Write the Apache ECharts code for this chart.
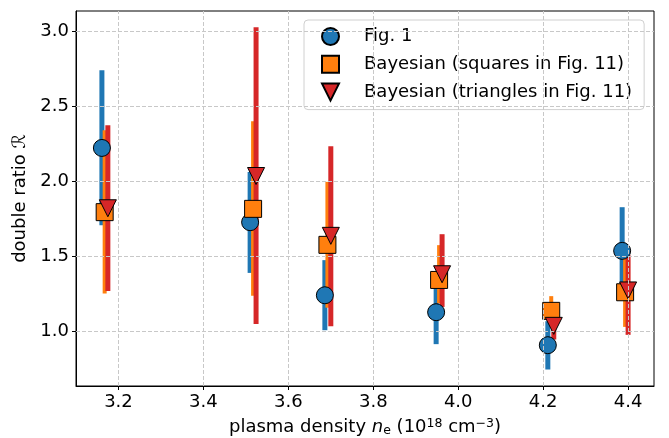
<!DOCTYPE html>
<html>
<head>
<meta charset="UTF-8">
<title></title>
<script src="https://cdn.jsdelivr.net/npm/echarts@6/dist/echarts.min.js"></script>
<style>
	html, body {margin:0; padding:0; background:#fff;}
	#box {width:669px; height:438px;}
</style>
</head>
<body>
<div id="box"></div>
<script type="text/javascript">
// Fig. 1 (blue circles)
var figX  = [3.161, 3.510, 3.686, 3.948, 4.211, 4.386];
var figY  = [2.225, 1.730, 1.243, 1.130, 0.910, 1.539];
var figLo = [1.710, 1.392, 1.010, 0.917, 0.748, 1.250];
var figHi = [2.743, 2.065, 1.477, 1.340, 1.070, 1.830];

// Bayesian, squares in Fig. 11 (orange)
var sqX  = [3.1675, 3.517, 3.692, 3.955, 4.219, 4.393];
var sqY  = [1.797, 1.819, 1.579, 1.345, 1.139, 1.263];
var sqLo = [1.255, 1.239, 1.160, 1.190, 1.060, 1.032];
var sqHi = [2.343, 2.403, 1.999, 1.577, 1.237, 1.500];

// Bayesian, triangles in Fig. 11 (red)
var trX  = [3.175, 3.524, 3.700, 3.962, 4.225, 4.400];
var trY  = [1.823, 2.038, 1.639, 1.383, 1.039, 1.275];
var trLo = [1.272, 1.052, 1.037, 1.165, 0.948, 0.979];
var trHi = [2.377, 3.030, 2.237, 1.650, 1.150, 1.510];

var xTicks = [3.2, 3.4, 3.6, 3.8, 4.0, 4.2, 4.4];
var yTicks = [1.0, 1.5, 2.0, 2.5, 3.0];

var names = ['Fig. 1', 'Bayesian (squares in Fig. 11)', 'Bayesian (triangles in Fig. 11)'];
var FONT = 'DejaVu Sans';
var FS = 18;
var triDown = 'path://M0,0L20,0L10,20Z';

function pairs(xs, ys) {
	return xs.map(function (x, i) { return [x, ys[i]]; });
}

// vertical error bar as a filled rect, lo..hi
function errBars(xs, lo, hi, color, w) {
	return {
		type: 'custom',
		silent: true,
		z: 2,
		data: xs.map(function (x, i) { return [x, lo[i], hi[i]]; }),
		encode: {x: 0, y: [1, 2]},
		renderItem: function (params, api) {
			var a = api.coord([api.value(0), api.value(1)]);
			var b = api.coord([api.value(0), api.value(2)]);
			return {
				type: 'rect',
				shape: {x: a[0] - w / 2, y: b[1], width: w, height: a[1] - b[1]},
				style: {fill: color, stroke: null, lineWidth: 0}
			};
		}
	};
}

function marks(name, xs, ys, color, symbol) {
	return {
		name: name,
		type: 'scatter',
		z: 2,
		symbol: symbol,
		symbolSize: 17,
		data: pairs(xs, ys),
		itemStyle: {color: color, opacity: 1, borderColor: '#000', borderWidth: 1}
	};
}

var gridLine = {type: [4, 2], color: '#c8c8c8', width: 1};
var gridMarks = xTicks.map(function (v) { return {xAxis: v}; })
	.concat(yTicks.map(function (v) { return {yAxis: v}; }));

var myChart = echarts.init(document.getElementById('box'));

var option = {
	animation: false,
	backgroundColor: '#fff',
	textStyle: {fontFamily: FONT},
	grid: {left: 76, right: 15, top: 11, bottom: 52, show: true, borderColor: '#000', borderWidth: 1,
		outerBoundsMode: 'none', containLabel: false},
	legend: {
		data: names,
		orient: 'vertical',
		left: 304,
		top: 20,
		padding: [7, 12, 8, 17],
		itemGap: 8.8,
		itemWidth: 17,
		itemHeight: 17,
		backgroundColor: 'rgba(255,255,255,0.85)',
		borderColor: '#d0d0d0',
		borderWidth: 1,
		borderRadius: 4,
		textStyle: {fontFamily: FONT, fontSize: FS, lineHeight: 18, color: '#000', padding: [0, 0, 0, 20]}
	},
	xAxis: {
		type: 'value',
		min: 3.1,
		max: 4.461,
		name: 'plasma density {i|n}{sub|e} (10{sup|18} cm{sup|\u22123})',
		nameLocation: 'middle',
		nameGap: 31,
		nameTextStyle: {
			fontFamily: FONT, fontSize: FS, color: '#000',
			rich: {
				i: {fontFamily: FONT, fontSize: FS, fontStyle: 'italic', color: '#000'},
				sub: {fontFamily: FONT, fontSize: 12.5, color: '#000', padding: [7, 0, 0, 0]},
				sup: {fontFamily: FONT, fontSize: 12.5, color: '#000', padding: [0, 0, 8, 0]}
			}
		},
		axisLine: {show: true, onZero: false, lineStyle: {color: '#000'}},
		axisTick: {show: true, length: 4, customValues: xTicks, lineStyle: {color: '#000'}},
		axisLabel: {customValues: xTicks, fontFamily: FONT, fontSize: FS, color: '#000', margin: 7,
			formatter: function (v) { return v.toFixed(1); }},
		splitLine: {show: false}
	},
	yAxis: {
		type: 'value',
		min: 0.638,
		max: 3.138,
		name: 'double ratio \u211B',
		nameLocation: 'middle',
		nameGap: 44,
		nameTextStyle: {fontFamily: FONT, fontSize: FS, color: '#000'},
		axisLine: {show: true, onZero: false, lineStyle: {color: '#000'}},
		axisTick: {show: true, length: 4, customValues: yTicks, lineStyle: {color: '#000'}},
		axisLabel: {customValues: yTicks, fontFamily: FONT, fontSize: FS, color: '#000', margin: 7,
			formatter: function (v) { return v.toFixed(1); }},
		splitLine: {show: false}
	},
	series: [
		{
			// dashed grid lines (ticks don't start at axis min)
			type: 'line',
			z: 1,
			data: [],
			silent: true,
			markLine: {
				silent: true,
				symbol: 'none',
				label: {show: false},
				lineStyle: gridLine,
				emphasis: {disabled: true},
				data: gridMarks
			}
		},
		errBars(figX, figLo, figHi, '#1f77b4', 5),
		marks(names[0], figX, figY, '#1f77b4', 'circle'),
		errBars(sqX, sqLo, sqHi, '#ff7f0e', 4),
		marks(names[1], sqX, sqY, '#ff7f0e', 'rect'),
		errBars(trX, trLo, trHi, '#d62728', 5),
		marks(names[2], trX, trY, '#d62728', triDown)
	]
};
myChart.setOption(option);
</script>
</body>
</html>
